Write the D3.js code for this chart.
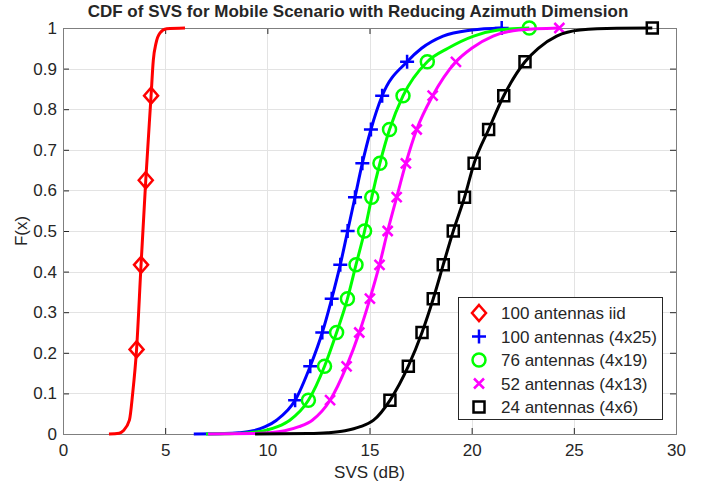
<!DOCTYPE html>
<html>
<head>
<meta charset="utf-8">
<script src="https://cdn.jsdelivr.net/npm/d3@7"></script>
<style>
  body { margin: 0; background: #fff; }
  text { font-family: "Liberation Sans", Arial, Helvetica, sans-serif; fill: #262626; }
</style>
</head>
<body>
<svg id="chart" width="712" height="487"></svg>
<script>
// CDF curves, [SVS dB, F(x)] pairs
var iidLine = [[2.25,0],[2.75,0.002],[2.95,0.008],[3.25,0.034],[3.41,0.1],[3.6,0.208],[3.82,0.417],[4.05,0.625],[4.31,0.833],[4.42,0.921],[4.55,0.962],[4.75,0.988],[5.07,0.998],[5.97,1]];
var ant100Line = [[6.4,0],[7.9,0.001],[8.6,0.003],[9.3,0.008],[9.9,0.018],[10.45,0.034],[11.36,0.083],[12.1,0.167],[12.69,0.25],[13.15,0.333],[13.57,0.417],[13.93,0.5],[14.29,0.583],[14.65,0.667],[15.07,0.75],[15.62,0.833],[16.84,0.917],[17.55,0.95],[18.6,0.98],[20.0,0.995],[21.47,1]];
var ant76Line = [[7.0,0],[8.4,0.001],[9.15,0.003],[9.85,0.008],[10.5,0.018],[11.1,0.034],[12.01,0.083],[12.8,0.167],[13.39,0.25],[13.92,0.333],[14.34,0.417],[14.76,0.5],[15.11,0.583],[15.51,0.667],[15.98,0.75],[16.64,0.833],[17.83,0.917],[18.84,0.95],[20.1,0.98],[21.3,0.995],[22.82,1]];
var ant52Line = [[7.1,0],[9.3,0.001],[10.1,0.003],[10.85,0.008],[11.55,0.018],[12.2,0.034],[13.07,0.083],[13.88,0.167],[14.5,0.25],[15.02,0.333],[15.49,0.417],[15.89,0.5],[16.33,0.583],[16.78,0.667],[17.31,0.75],[18.09,0.833],[19.23,0.917],[20.0,0.95],[21.05,0.98],[22.3,0.995],[24.29,1]];
var ant24Line = [[9.4,0],[12.0,0.001],[12.95,0.003],[13.8,0.008],[14.55,0.018],[15.2,0.034],[16.0,0.083],[16.9,0.167],[17.57,0.25],[18.12,0.333],[18.61,0.417],[19.1,0.5],[19.65,0.583],[20.12,0.667],[20.83,0.75],[21.57,0.833],[22.61,0.917],[23.26,0.95],[24.16,0.98],[25.3,0.995],[27.1,0.9995],[28.84,1]];

// marker positions
var iidMarks = [[3.6,5/24],[3.82,10/24],[4.05,15/24],[4.31,20/24]];
var ant100Marks = [[11.36,1/12],[12.1,2/12],[12.69,3/12],[13.15,4/12],[13.57,5/12],[13.93,6/12],[14.29,7/12],[14.65,8/12],[15.07,9/12],[15.62,10/12],[16.84,11/12],[21.47,1]];
var ant76Marks = [[12.01,1/12],[12.8,2/12],[13.39,3/12],[13.92,4/12],[14.34,5/12],[14.76,6/12],[15.11,7/12],[15.51,8/12],[15.98,9/12],[16.64,10/12],[17.83,11/12],[22.82,1]];
var ant52Marks = [[13.07,1/12],[13.88,2/12],[14.5,3/12],[15.02,4/12],[15.49,5/12],[15.89,6/12],[16.33,7/12],[16.78,8/12],[17.31,9/12],[18.09,10/12],[19.23,11/12],[24.29,1]];
var ant24Marks = [[16.0,1/12],[16.9,2/12],[17.57,3/12],[18.12,4/12],[18.61,5/12],[19.1,6/12],[19.65,7/12],[20.12,8/12],[20.83,9/12],[21.57,10/12],[22.61,11/12],[28.84,1]];

var seriesNames = ["100 antennas iid", "100 antennas (4x25)", "76 antennas (4x19)", "52 antennas (4x13)", "24 antennas (4x6)"];
var xTicks = [0, 5, 10, 15, 20, 25, 30];
var yTicks = [0, 0.1, 0.2, 0.3, 0.4, 0.5, 0.6, 0.7, 0.8, 0.9, 1];

var series = [
  {name: seriesNames[0], line: iidLine, marks: iidMarks, color: "#ff0000", shape: "diamond"},
  {name: seriesNames[1], line: ant100Line, marks: ant100Marks, color: "#0000ff", shape: "plus"},
  {name: seriesNames[2], line: ant76Line, marks: ant76Marks, color: "#00ff00", shape: "circle"},
  {name: seriesNames[3], line: ant52Line, marks: ant52Marks, color: "#ff00ff", shape: "cross"},
  {name: seriesNames[4], line: ant24Line, marks: ant24Marks, color: "#000000", shape: "square"}
];

var svg = d3.select("#chart"),
    margin = {top: 28, right: 36, bottom: 53, left: 63},
    width = 712 - margin.left - margin.right,
    height = 487 - margin.top - margin.bottom,
    g = svg.append("g").attr("transform", "translate(" + margin.left + "," + margin.top + ")");

var x = d3.scaleLinear().domain([0, 30]).range([0, width]);
var y = d3.scaleLinear().domain([0, 1]).range([height, 0]);

function markerPath(shape) {
  switch (shape) {
    case "diamond": return "M0,-8L7,0L0,8L-7,0Z";
    case "plus": return "M-7,0H7M0,-7V7";
    case "circle": return "M6.5,0A6.5,6.5 0 1,1 -6.5,0A6.5,6.5 0 1,1 6.5,0Z";
    case "cross": return "M-5,-5L5,5M-5,5L5,-5";
    case "square": return "M-5.5,-5.5H5.5V5.5H-5.5Z";
  }
}

// grid
g.append("g")
  .selectAll("line")
  .data(xTicks.slice(1, -1))
  .enter().append("line")
    .attr("x1", function(d) { return Math.round(x(d)) + 0.5; })
    .attr("x2", function(d) { return Math.round(x(d)) + 0.5; })
    .attr("y1", 0).attr("y2", height)
    .attr("stroke", "#e3e3e3");
g.append("g")
  .selectAll("line")
  .data(yTicks.slice(1, -1))
  .enter().append("line")
    .attr("y1", function(d) { return Math.round(y(d)) + 0.5; })
    .attr("y2", function(d) { return Math.round(y(d)) + 0.5; })
    .attr("x1", 0).attr("x2", width)
    .attr("stroke", "#e3e3e3");

// axes (ticks inward, box on)
function styleAxis(sel) {
  sel.select(".domain").remove();
  sel.selectAll(".tick line").attr("stroke", "#262626");
  sel.selectAll(".tick text").attr("fill", "#262626").style("font-size", "17px")
    .style("font-family", "'Liberation Sans', Arial, sans-serif");
}
g.append("g").attr("transform", "translate(0," + height + ")")
  .call(d3.axisBottom(x).tickValues(xTicks).tickSizeInner(-6).tickSizeOuter(0).tickPadding(10))
  .call(styleAxis);
g.append("g")
  .call(d3.axisLeft(y).tickValues(yTicks).tickFormat(d3.format("~g")).tickSizeInner(-6).tickSizeOuter(0).tickPadding(6))
  .call(styleAxis);
g.append("g")
  .call(d3.axisTop(x).tickValues(xTicks).tickSizeInner(-6).tickSizeOuter(0).tickFormat(""))
  .call(styleAxis);
g.append("g").attr("transform", "translate(" + width + ",0)")
  .call(d3.axisRight(y).tickValues(yTicks).tickSizeInner(-6).tickSizeOuter(0).tickFormat(""))
  .call(styleAxis);

g.append("rect")
  .attr("x", 0.5).attr("y", 0.5)
  .attr("width", width).attr("height", height)
  .attr("fill", "none").attr("stroke", "#7f7f7f");

// curves
var line = d3.line()
  .x(function(d) { return x(d[0]); })
  .y(function(d) { return y(d[1]); })
  .curve(d3.curveMonotoneX);

series.forEach(function(s) {
  g.append("path")
    .datum(s.line)
    .attr("d", line)
    .attr("fill", "none")
    .attr("stroke", s.color)
    .attr("stroke-width", 3)
    .attr("stroke-linejoin", "round");
  g.append("g")
    .selectAll("path")
    .data(s.marks)
    .enter().append("path")
      .attr("transform", function(d) { return "translate(" + x(d[0]) + "," + y(d[1]) + ")"; })
      .attr("d", markerPath(s.shape))
      .attr("fill", "none")
      .attr("stroke", s.color)
      .attr("stroke-width", 2.5);
});

// title and labels
svg.append("text")
  .attr("x", 358).attr("y", 17)
  .attr("text-anchor", "middle")
  .style("font-size", "17px")
  .style("font-weight", "bold")
  .attr("fill", "#000")
  .text("CDF of SVS for Mobile Scenario with Reducing Azimuth Dimension");

svg.append("text")
  .attr("x", margin.left + width / 2).attr("y", 478)
  .attr("text-anchor", "middle")
  .style("font-size", "17px")
  .text("SVS (dB)");

svg.append("text")
  .attr("transform", "translate(27," + (margin.top + height / 2) + ") rotate(-90)")
  .attr("text-anchor", "middle")
  .style("font-size", "17px")
  .text("F(x)");

// legend
var legend = svg.append("g").attr("transform", "translate(458,297)");
legend.append("rect")
  .attr("x", 0.5).attr("y", 0.5)
  .attr("width", 204).attr("height", 122)
  .attr("fill", "#fff").attr("stroke", "#262626");

var item = legend.selectAll("g.item")
  .data(series)
  .enter().append("g")
    .attr("transform", function(d, i) { return "translate(0," + (16 + i * 23.5) + ")"; });
item.append("path")
  .attr("transform", "translate(21,0)")
  .attr("d", function(d) { return markerPath(d.shape); })
  .attr("fill", "none")
  .attr("stroke", function(d) { return d.color; })
  .attr("stroke-width", 2.5);
item.append("text")
  .attr("x", 43).attr("y", 6)
  .style("font-size", "17px")
  .attr("fill", "#000")
  .text(function(d) { return d.name; });
</script>
</body>
</html>
